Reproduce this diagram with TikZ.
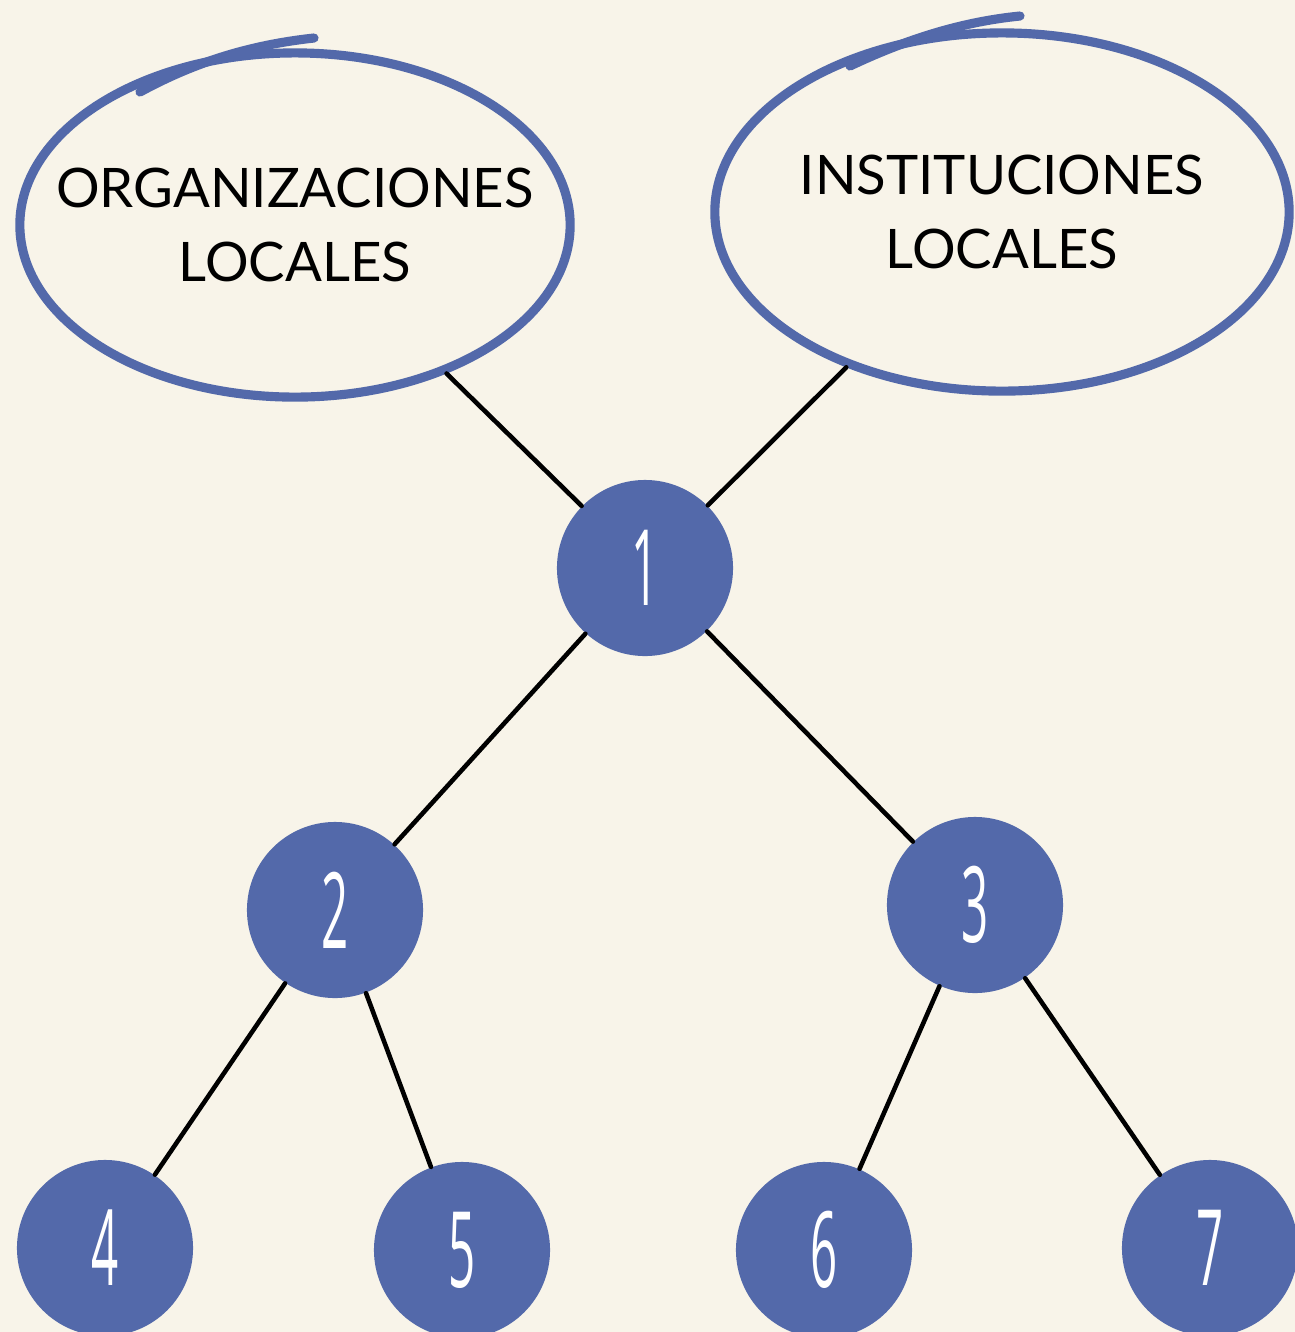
\documentclass[tikz,border=0pt]{standalone}
\usepackage{fontspec}
\usepackage{graphicx}
\setmainfont{Lato}
\newfontfamily\numfont{Open Sans}
\usetikzlibrary{shapes.geometric}
\definecolor{paper}{HTML}{F8F4E9}
\definecolor{inkblue}{HTML}{5369AA}
\tikzset{
  bubble/.style={ellipse, draw=inkblue, line width=2.6pt, inner sep=-0.5cm, align=center,
    font=\fontsize{15.5}{21}\selectfont},
  pen/.style={inkblue, line width=2.6pt, line cap=round},
  dot/.style={circle, fill=inkblue, minimum size=1.76cm, inner sep=0pt, text=white,
    font=\numfont\fontsize{30}{30}\selectfont},
  link/.style={black, line width=1.3pt, line cap=round},
}
\begin{document}
\begin{tikzpicture}[x=0.01cm, y=-0.01cm]
  \fill[paper] (0,0) rectangle (1295,1332);
  \useasboundingbox (0,0) rectangle (1295,1332);
  % the two bubbles on top
  \node[bubble, minimum width=5.5cm, minimum height=3.44cm] (org) at (295,225) {ORGANIZACIONES\\LOCALES};
  \node[bubble, minimum width=5.74cm, minimum height=3.58cm] (inst) at (1002,212) {INSTITUCIONES\\LOCALES};
  \draw[pen] (140,92) .. controls (195,62) and (250,45) .. (314,38);
  \draw[pen] (850,66) .. controls (905,40) and (960,22) .. (1020,16);
  % tree
  \foreach \k/\x/\y in {1/645/568, 2/335/910, 3/975/905, 4/105/1248, 5/462/1250, 6/824/1250, 7/1210/1248}
    \node[dot] (n\k) at (\x,\y) {\scalebox{0.45}[1]{\k}};
  \foreach \a/\b in {org/n1, inst/n1, n1/n2, n1/n3, n2/n4, n2/n5, n3/n6, n3/n7}
    \draw[link] (\a) -- (\b);
\end{tikzpicture}
\end{document}
